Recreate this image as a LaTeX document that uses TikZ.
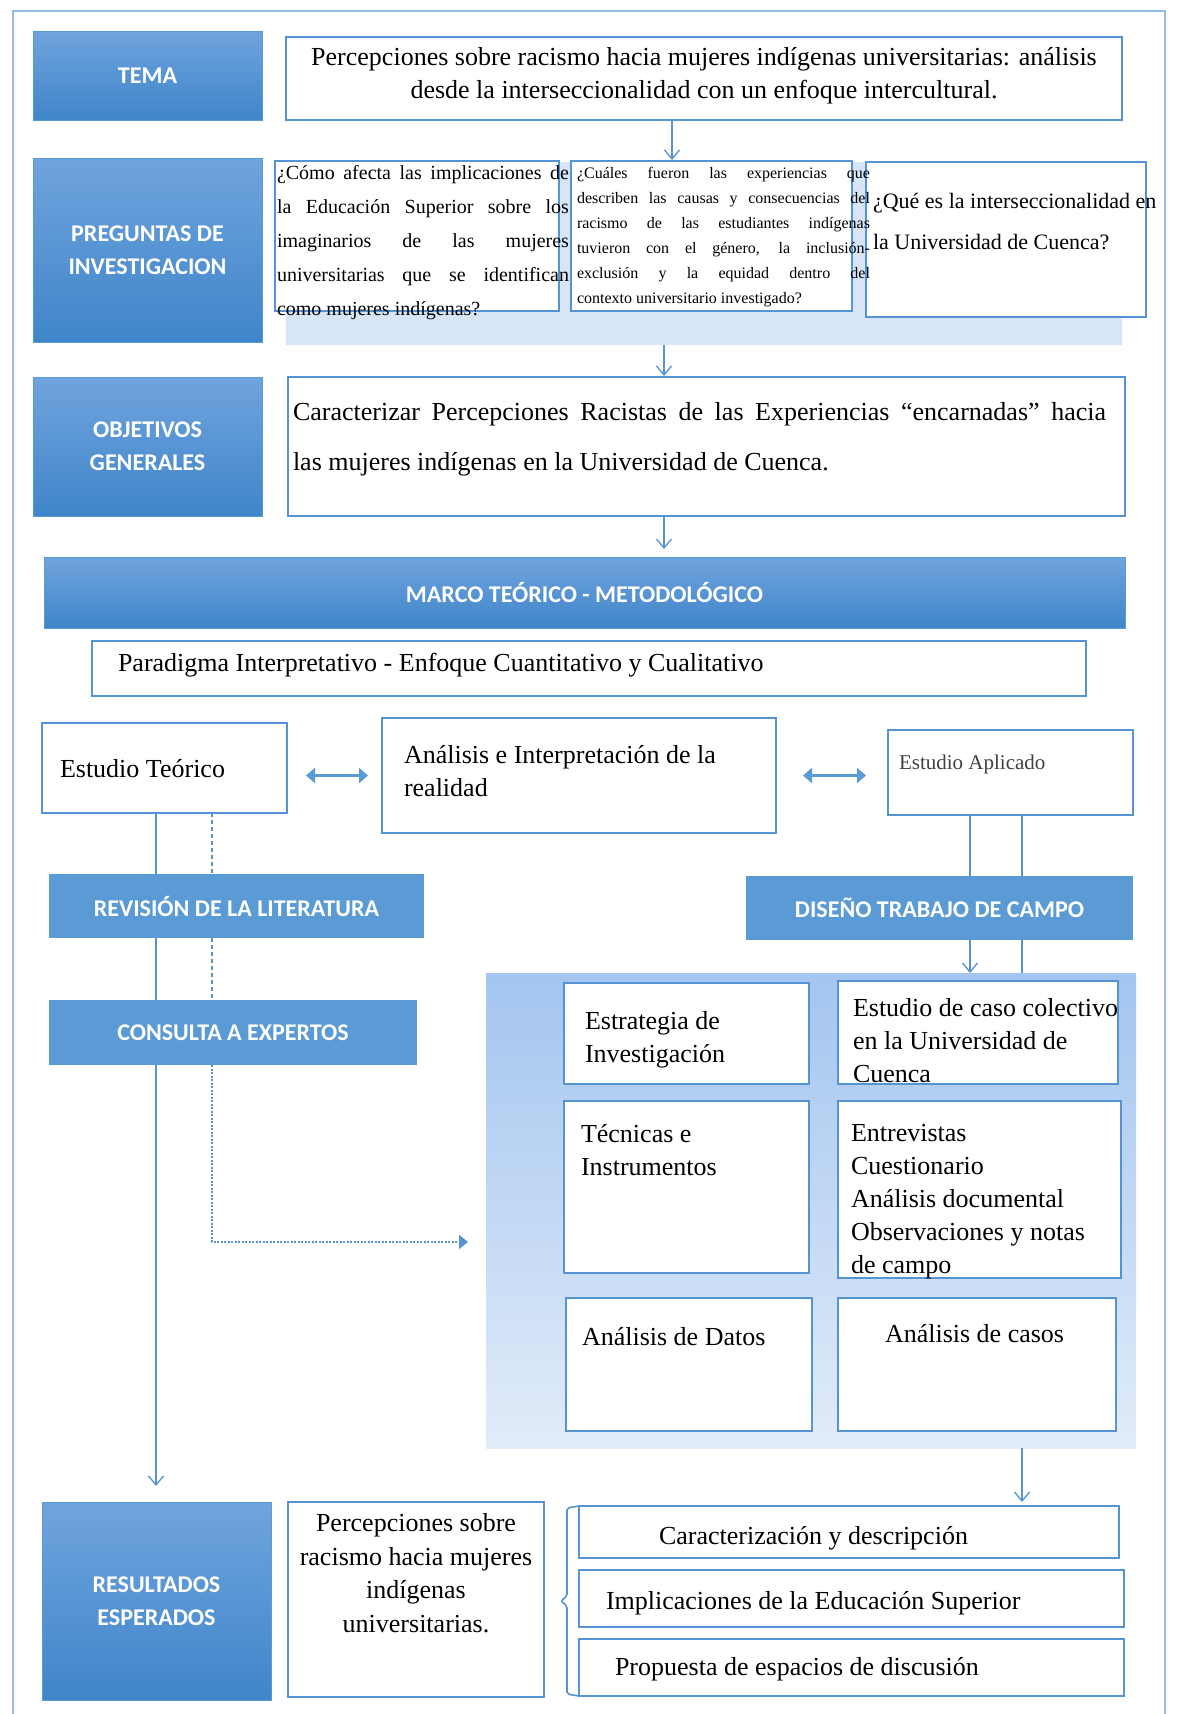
\documentclass[tikz,border=0pt]{standalone}
\usepackage{fontspec}
\setmainfont{Liberation Serif}
\newfontfamily\headfont{Carlito}
\usetikzlibrary{arrows.meta,calc}

\definecolor{hdtop}{HTML}{70A4DD}
\definecolor{hdbot}{HTML}{3F85CA}
\definecolor{hdflat}{HTML}{5B9BD5}
\definecolor{edge}{HTML}{5593D3}
\definecolor{bandcol}{HTML}{D7E5F7}
\definecolor{paneltop}{HTML}{A3C5EF}
\definecolor{panelbot}{HTML}{E2ECF9}
\definecolor{framecol}{HTML}{93BCE6}
\definecolor{greytext}{HTML}{404040}

\newcommand{\fsz}[2]{\fontsize{#1}{#2}\selectfont}

\tikzset{
  every node/.style={inner sep=0pt, outer sep=0pt},
  sz/.style 2 args={minimum width=#1pt, minimum height=#2pt},
  hdshade/.style={rectangle, anchor=north west, top color=hdtop, bottom color=hdbot,
    draw=hdflat, line width=0.8pt, text=white, align=center,
    font=\headfont\bfseries\fsz{24}{33}},
  hdplain/.style={rectangle, anchor=north west, fill=hdflat, text=white, align=center,
    font=\headfont\bfseries\fsz{24}{33}},
  tbox/.style={rectangle, anchor=north west, draw=edge, line width=2.2pt, fill=white},
  qbox/.style={rectangle, anchor=north west, draw=edge, line width=2.8pt, fill=white},
  bandbox/.style={rectangle, anchor=north west, fill=bandcol},
  panelbox/.style={rectangle, anchor=north west, top color=paneltop, bottom color=panelbot},
  % multi-line labels are placed by the baseline of their last line
  lbl/.style={anchor=base west, align=left, font=\fsz{26}{33}},
  flow/.style={draw=edge, line width=1.3pt,
    -{Straight Barb[length=9pt, width=15pt, line width=1.3pt]}},
  plainline/.style={draw=edge, line width=1.3pt},
  dashline/.style={draw=edge, line width=1.3pt, dash pattern=on 4pt off 3pt},
  dashflow/.style={draw=edge, line width=1.8pt, dash pattern=on 2pt off 1.5pt,
    -{Triangle[length=9pt, width=14pt]}},
  dbl/.style={draw=hdflat, line width=3pt,
    {Triangle[length=9pt, width=15pt]}-{Triangle[length=9pt, width=15pt]}},
  bracket/.style={draw=edge, line width=1.6pt, rounded corners=2pt},
}

\begin{document}
\begin{tikzpicture}[x=1pt, y=-1pt]
\fill[white] (0,0) rectangle (1179,1714);
\useasboundingbox (0,0) rectangle (1179,1714);

% outer frame, open at the foot of the page
\draw[framecol, line width=2pt] (13,1714) -- (13,11) -- (1165,11) -- (1165,1714);

% tinted backgrounds
\node[bandbox, sz={836}{183}] (band) at (286,162) {};
\node[panelbox, sz={650}{475}] (panel) at (486,973) {};

% row headers
\node[hdshade, sz={229}{89}] (tema) at (33,31) {TEMA};
\node[hdshade, sz={229}{184}] (preg) at (33,158) {PREGUNTAS DE\\INVESTIGACION};
\node[hdshade, sz={229}{139}] (obj) at (33,377) {OBJETIVOS\\GENERALES};
\node[hdshade, sz={1081}{71}] (marco) at (44,557) {MARCO TEÓRICO - METODOLÓGICO};
\node[hdplain, sz={375}{64}] (rev) at (49,874) {REVISIÓN DE LA LITERATURA};
\node[hdplain, sz={368}{65}] (cons) at (49,1000) {CONSULTA A EXPERTOS};
\node[hdplain, sz={387}{64}] (dis) at (746,876) {DISEÑO TRABAJO DE CAMPO};
\node[hdshade, sz={229}{198}] (res) at (42,1502) {RESULTADOS\\ESPERADOS};

% topic and objective
\node[tbox, sz={836}{83}] (temaT) at (286,37) {};
\node[anchor=base, align=center, font=\fsz{26}{33}] (temaTx) at (704,98)
  {Percepciones sobre racismo hacia mujeres indígenas universitarias: análisis\\
   desde la interseccionalidad con un enfoque intercultural.};

% research questions
\node[qbox, sz={284}{150}] (q1) at (275,161) {};
\node[qbox, sz={281}{150}] (q2) at (571,161) {};
\node[tbox, sz={280}{155}] (q3) at (866,162) {};
\node[anchor=base west, text width=292pt, align=justify, font=\fsz{20}{34}] (q1x) at (277,179)
  {¿Cómo afecta las implicaciones de\linebreak la Educación Superior sobre los\linebreak imaginarios de las mujeres\linebreak universitarias que se identifican\linebreak como mujeres indígenas?};
\node[anchor=base west, text width=293pt, align=justify, font=\fsz{16}{25}] (q2x) at (577,178)
  {¿Cuáles fueron las experiencias que\linebreak describen las causas y consecuencias del\linebreak racismo de las estudiantes indígenas\linebreak tuvieron con el género, la inclusión-\linebreak exclusión y la equidad dentro del\linebreak contexto universitario investigado?};
\node[anchor=base west, align=left, font=\fsz{22}{41}] (q3x) at (873,249)
  {¿Qué es la interseccionalidad en\\la Universidad de Cuenca?};

\node[tbox, sz={837}{139}] (objT) at (288,377) {};
\node[anchor=base west, text width=813pt, align=justify, font=\fsz{26}{50}] (objx) at (293,420)
  {Caracterizar Percepciones Racistas de las Experiencias “encarnadas” hacia\linebreak las mujeres indígenas en la Universidad de Cuenca.};

% framework
\node[tbox, sz={994}{55}] (parad) at (92,641) {};
\node[lbl] (paradx) at (118,671) {Paradigma Interpretativo - Enfoque Cuantitativo y Cualitativo};

\node[tbox, sz={245}{90}] (teor) at (42,723) {};
\node[lbl] (teorx) at (60,777) {Estudio Teórico};
\node[tbox, sz={394}{115}] (anal) at (382,718) {};
\node[lbl] (analx) at (404,796) {Análisis e Interpretación de la\\realidad};
\node[tbox, sz={245}{85}] (apli) at (888,730) {};
\node[lbl, font=\fsz{21}{26}, text=greytext] (aplix) at (899,769) {Estudio Aplicado};

% field design panel
\node[tbox, sz={245}{101}] (estr) at (564,983) {};
\node[lbl] (estrx) at (585,1062) {Estrategia de\\Investigación};
\node[tbox, sz={280}{103}] (caso) at (838,981) {};
\node[lbl] (casox) at (853,1082) {Estudio de caso colectivo\\en la Universidad de\\Cuenca};
\node[tbox, sz={245}{172}] (tec) at (564,1101) {};
\node[lbl] (tecx) at (581,1175) {Técnicas e\\Instrumentos};
\node[tbox, sz={283}{177}] (entr) at (838,1101) {};
\node[lbl] (entrx) at (851,1273) {Entrevistas\\Cuestionario\\Análisis documental\\Observaciones y notas\\de campo};
\node[tbox, sz={246}{133}] (adat) at (566,1298) {};
\node[lbl] (adatx) at (582,1345) {Análisis de Datos};
\node[tbox, sz={278}{133}] (acas) at (838,1298) {};
\node[lbl] (acasx) at (885,1342) {Análisis de casos};

% expected results
\node[tbox, sz={256}{195}] (perc) at (288,1502) {};
\node[anchor=base, align=center, font=\fsz{26}{33.5}] (percx) at (416,1632)
  {Percepciones sobre\\racismo hacia mujeres\\indígenas\\universitarias.};
\node[tbox, sz={540}{52}] (car) at (579,1506) {};
\node[lbl] (carx) at (659,1544) {Caracterización y descripción};
\node[tbox, sz={545}{57}] (imp) at (579,1570) {};
\node[lbl] (impx) at (606,1609) {Implicaciones de la Educación Superior};
\node[tbox, sz={545}{57}] (prop) at (579,1639) {};
\node[lbl] (propx) at (615,1675) {Propuesta de espacios de discusión};

% bracket gathering the three results
\draw[bracket] (car.north west) -- (567,1508) -- (567,1596) -- (561,1601)
  -- (567,1606) -- (567,1694) -- (prop.south west);

% connector columns
\coordinate (colT) at (672,0);
\coordinate (colM) at (664,0);
\coordinate (colS) at (156,0);
\coordinate (colD) at (212,0);
\coordinate (colR) at (970,0);
\coordinate (colQ) at (1022,0);
\coordinate (dashtip) at (468,1242);

% main vertical flow
\draw[flow] (colT |- temaT.south) -- ([yshift=2pt]colT |- band.north);
\draw[flow] (colM |- band.south) -- ([yshift=1pt]colM |- objT.north);
\draw[flow] (colM |- objT.south) -- ([yshift=8pt]colM |- marco.north);

% two-way links
\draw[dbl] ([xshift=19pt]teor.east |- anal.west) -- ([xshift=-14pt]anal.west);
\draw[dbl] ([xshift=27pt]anal.east) -- ([xshift=-22pt]apli.west |- anal.east);

% theoretical branch
\draw[plainline] (colS |- teor.south) -- (colS |- rev.north);
\draw[dashline] (colD |- teor.south) -- (colD |- rev.north);
\draw[plainline] (colS |- rev.south) -- (colS |- cons.north);
\draw[dashline] (colD |- rev.south) -- (colD |- cons.north);
\draw[flow] (colS |- cons.south) -- ([yshift=16pt]colS |- res.north);
\draw[dashflow] (colD |- cons.south) |- (dashtip);

% applied branch
\draw[plainline] (colR |- apli.south) -- (colR |- dis.north);
\draw[plainline] (colQ |- apli.south) -- (colQ |- dis.north);
\draw[flow] (colR |- dis.south) -- (colR |- panel.north);
\draw[plainline] (colQ |- dis.south) -- (colQ |- panel.north);
\draw[flow] (colQ |- panel.south) -- ([yshift=4pt]colQ |- car.north);
\end{tikzpicture}
\end{document}
